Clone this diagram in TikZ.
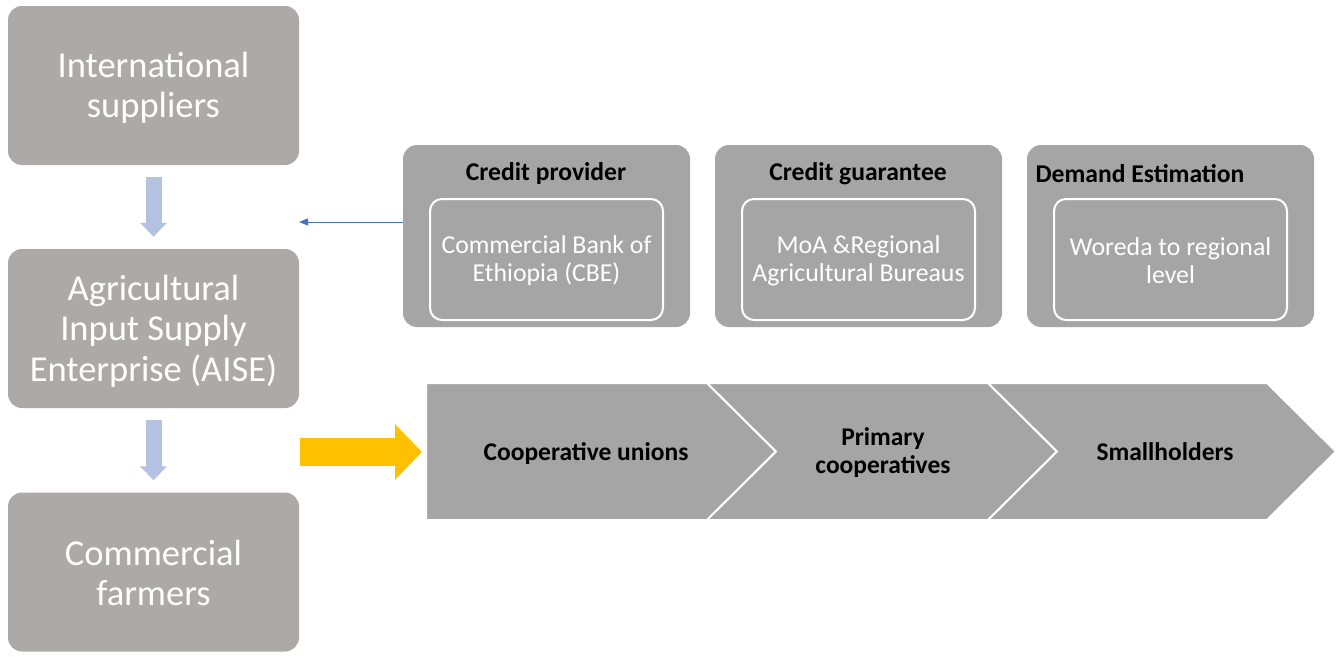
\documentclass[tikz,border=0pt]{standalone}
\usepackage{fontspec}
\setmainfont{Carlito}
\usetikzlibrary{arrows.meta}
\definecolor{lbox}{HTML}{ADA9A8}
\definecolor{gbox}{HTML}{A5A5A5}
\definecolor{barrow}{HTML}{B4C2E2}
\definecolor{tblue}{HTML}{4472C4}
\definecolor{yarrow}{HTML}{FFC000}
\tikzset{
  leftbox/.style={fill=lbox, rounded corners=14pt, minimum width=291pt, minimum height=159pt,
    text=white, font=\fontsize{36.5}{40.5}\selectfont, align=center, inner sep=0pt},
  leftlabel/.style={text=white, font=\fontsize{36.5}{40.5}\selectfont, align=center, inner sep=0pt},
  groupbox/.style={fill=gbox, rounded corners=14pt, minimum width=287pt, minimum height=182pt, inner sep=0pt},
  grouptitle/.style={font=\fontsize{25.6}{28}\selectfont\bfseries, text=black, inner sep=0pt},
  innerbox/.style={fill=gbox, draw=white, line width=2pt, rounded corners=12pt, minimum width=233pt,
    minimum height=121pt, inner sep=0pt},
  innerlabel/.style={text=white, align=center, font=\fontsize{25.8}{28}\selectfont, inner sep=0pt},
  chevron/.style={fill=gbox, draw=white, line width=2pt, line join=miter},
  chevtext/.style={font=\fontsize{25.5}{28}\selectfont\bfseries, text=black, align=center, inner sep=0pt},
  blockarrow/.style={draw=barrow, line width=16pt, -{Triangle[length=14pt,width=26pt]}},
  yellowarrow/.style={draw=yarrow, line width=28pt, -{Triangle[length=27pt,width=54pt]}},
  thinarrow/.style={draw=tblue, line width=1pt, -{Triangle[length=9pt,width=7pt]}}
}
\begin{document}
\begin{tikzpicture}[x=1pt,y=-1pt]
\useasboundingbox (0,0) rectangle (1336,656);
% left column
\node[leftbox] (ins) at (153.5,85.5) {};
\node[leftlabel] (insl) at (153.5,88) {International\\suppliers};
\node[leftbox] (aise) at (153.5,328.5) {};
\node[leftlabel] (aisel) at (153.5,331) {Agricultural\\Input Supply\\Enterprise (AISE)};
\node[leftbox] (cf) at (153.5,572) {};
\node[leftlabel] (cfl) at (153.5,573) {Commercial\\farmers};
\draw[blockarrow] ([yshift=-12pt]ins.south) -- ([yshift=12pt]aise.north);
\draw[blockarrow] ([yshift=-12pt]aise.south) -- ([yshift=12pt]cf.north);
% group boxes
\node[groupbox] (cpo) at (546.5,236) {};
\node[grouptitle] (cpt) at (546,173.5) {Credit provider};
\node[innerbox] (cpi) at (546.5,259.5) {};
\node[innerlabel] (cpil) at (546.5,261) {Commercial Bank of\\Ethiopia (CBE)};
\node[groupbox] (cgo) at (858.5,236) {};
\node[grouptitle] (cgt) at (858,173.5) {Credit guarantee};
\node[innerbox] (cgi) at (858.5,259.5) {};
\node[innerlabel] (cgil) at (858.5,261) {MoA \&Regional\\Agricultural Bureaus};
\node[groupbox] (deo) at (1170.5,236) {};
\node[grouptitle] (det) at (1140,173.5) {Demand Estimation};
\node[innerbox] (dei) at (1170.5,259.5) {};
\node[innerlabel] (deil) at (1170.5,260.5) {Woreda to regional\\level};
\coordinate (ta) at (403,222);
\coordinate (tb) at (299,222);
\draw[thinarrow] (ta) -- (tb);
% chevrons
\path[chevron] (426,383) -- (707,383) -- (776,451.5) -- (707,520) -- (426,520) -- cycle;
\path[chevron] (707,383) -- (988,383) -- (1057,451.5) -- (988,520) -- (707,520) -- (776,451.5) -- cycle;
\path[chevron] (988,383) -- (1267,383) -- (1336,451.5) -- (1267,520) -- (988,520) -- (1057,451.5) -- cycle;
\node[chevtext] (cu) at (586,453.5) {Cooperative unions};
\node[chevtext] (pc) at (883,453) {Primary\\cooperatives};
\node[chevtext] (sh) at (1165,452) {Smallholders};
\coordinate (ya) at (300,452);
\coordinate (yb) at (422,452);
\draw[yellowarrow] (ya) -- (yb);
\end{tikzpicture}
\end{document}
